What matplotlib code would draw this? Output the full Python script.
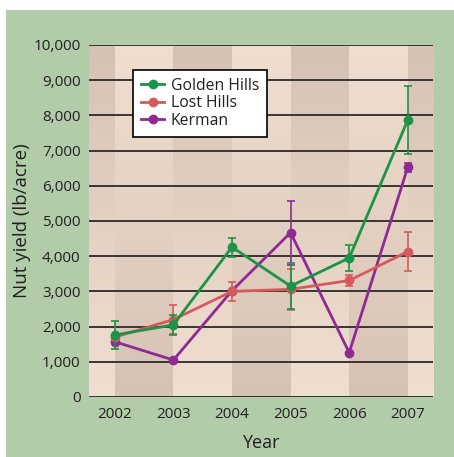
import matplotlib.pyplot as plt
import numpy as np
from matplotlib.colors import LinearSegmentedColormap
from matplotlib.lines import Line2D
from matplotlib.patches import Rectangle

years = [2002, 2003, 2004, 2005, 2006, 2007]

golden = [1760, 2050, 4260, 3150, 3950, 7870]
golden_err = [390, 280, 270, 660, 380, 970]
lost = [1700, 2200, 3000, 3060, 3310, 4130]
lost_err = [60, 400, 260, 580, 170, 560]
kerman = [1570, 1050, 3020, 4670, 1260, 6530]
kerman_err = [0, 0, 0, 910, 0, 130]

yticks = [0, 1000, 2000, 3000, 4000, 5000, 6000, 7000, 8000, 9000, 10000]

plt.rcParams['font.family'] = ['Open Sans', 'DejaVu Sans']
txt = '#231f20'

fig = plt.figure(figsize=(4.54, 4.57), dpi=100, facecolor='white')
bg = Rectangle((6 / 454, 0), 448 / 454, 447 / 457, transform=fig.transFigure,
               facecolor='#b2cba9', edgecolor='none', zorder=-10)
fig.add_artist(bg)

ax = fig.add_axes([89 / 454, 1 - 397 / 457, 344 / 454, 352 / 457])
ax.set_facecolor('none')

xmin, xmax = 2001.56, 2007.43
dark, light = '#d6c2b4', '#f0dfd0'
cmap_a = LinearSegmentedColormap.from_list('a', [light, dark])
cmap_b = LinearSegmentedColormap.from_list('b', [dark, light])
grad = np.linspace(0, 1, 256).reshape(-1, 1)
edges = [xmin] + years + [xmax]
for i in range(len(edges) - 1):
    cm = cmap_a if i % 2 == 0 else cmap_b
    ax.imshow(grad, cmap=cm, origin='lower', aspect='auto',
              extent=[edges[i], edges[i + 1], 0, 10000], zorder=0)

for y in yticks:
    ax.axhline(y, color='#3a3534', lw=1.4, zorder=1)

series = [
    ('Golden Hills', golden, golden_err, '#1b9447', 4),
    ('Lost Hills', lost, lost_err, '#d65a5c', 3),
    ('Kerman', kerman, kerman_err, '#8e2b93', 2),
]
handles = []
for name, vals, err, col, z in series:
    ax.errorbar(years, vals, yerr=err, color=col, lw=2, marker='o', ms=6,
                elinewidth=1.2, capsize=3, capthick=1.2, zorder=z)
    handles.append(Line2D([], [], color=col, lw=2, marker='o', ms=6, label=name))

ax.set_xlim(xmin, xmax)
ax.set_ylim(0, 10000)
ax.set_xticks(years)
ax.set_yticks(yticks)
ax.set_yticklabels([f'{v:,}' for v in yticks])
ax.tick_params(length=0, labelsize=11, colors=txt, pad=6)
ax.tick_params(axis='x', pad=7)
for s in ax.spines.values():
    s.set_visible(False)

ax.set_xlabel('Year', fontsize=13, color=txt, labelpad=9)
ax.set_ylabel('Nut yield (lb/acre)', fontsize=13.5, color=txt, labelpad=2)

leg = ax.legend(handles=handles, loc='upper left', bbox_to_anchor=(0.128, 0.929),
                borderaxespad=0, fontsize=11.3, frameon=True, fancybox=False,
                framealpha=1, edgecolor='black', handlelength=1.5,
                handletextpad=0.4, borderpad=0.5, labelspacing=0.1)
leg.get_frame().set_linewidth(1.2)
for t in leg.get_texts():
    t.set_color(txt)

fig.savefig('out.png', dpi=100, facecolor='white')
